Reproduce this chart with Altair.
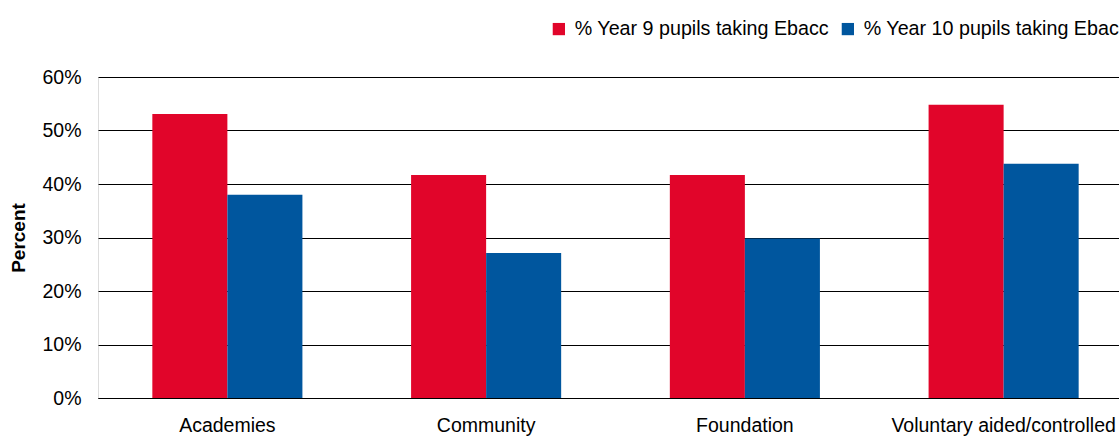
import altair as alt
import pandas as pd

categories = ["Academies", "Community", "Foundation", "Voluntary aided/controlled"]
year9 = [53.1, 41.7, 41.7, 54.8]
year10 = [38.0, 27.1, 29.8, 43.8]
series = ["% Year 9 pupils taking Ebacc", "% Year 10 pupils taking Ebacc"]
colors = ["#E1052A", "#00569E"]

rows = []
for c, a, b in zip(categories, year9, year10):
    rows.append({"cat": c, "series": series[0], "value": a / 100})
    rows.append({"cat": c, "series": series[1], "value": b / 100})
df = pd.DataFrame(rows)

FONT = "Liberation Sans"
FS = 19.5

chart = alt.Chart(df).mark_bar().encode(
    x=alt.X("cat:N", sort=categories, title=None,
            scale=alt.Scale(range=[0, 1035], paddingInner=0.42, paddingOuter=0.21),
            axis=alt.Axis(labelAngle=0, labelFontSize=FS, labelFont=FONT, labelColor="#000",
                          labelPadding=18, ticks=False, domain=True, domainColor="#000",
                          domainWidth=1, labelLimit=400)),
    xOffset=alt.XOffset("series:N", sort=series, scale=alt.Scale(paddingInner=0, paddingOuter=0)),
    y=alt.Y("value:Q", title="Percent",
            scale=alt.Scale(domain=[0, 0.6], nice=False),
            axis=alt.Axis(format=".0%", values=[0, 0.1, 0.2, 0.3, 0.4, 0.5, 0.6],
                          labelFontSize=FS, labelFont=FONT, labelColor="#000",
                          labelPadding=17, ticks=False, domain=False,
                          grid=True, gridColor="#000", gridWidth=1,
                          titleFont=FONT, titleFontSize=19, titleFontWeight="bold",
                          titleColor="#000", titlePadding=13)),
    color=alt.Color("series:N", sort=series,
                    scale=alt.Scale(domain=series, range=colors),
                    legend=alt.Legend(title=None, orient="none", legendX=451, legendY=-58,
                                      direction="horizontal", symbolType="square",
                                      symbolSize=150, symbolStrokeWidth=0,
                                      labelFontSize=19.7, labelFont=FONT, labelColor="#000",
                                      labelOffset=6, columnPadding=9, labelLimit=500)),
).properties(
    width=1021,
    height=321,
    padding={"left": 98, "top": 77, "right": 0, "bottom": 38},
    autosize=alt.AutoSizeParams(type="none"),
).configure_view(stroke=None).configure(background="white")

chart.save("out.html", embed_options={"renderer": "svg", "actions": False})
